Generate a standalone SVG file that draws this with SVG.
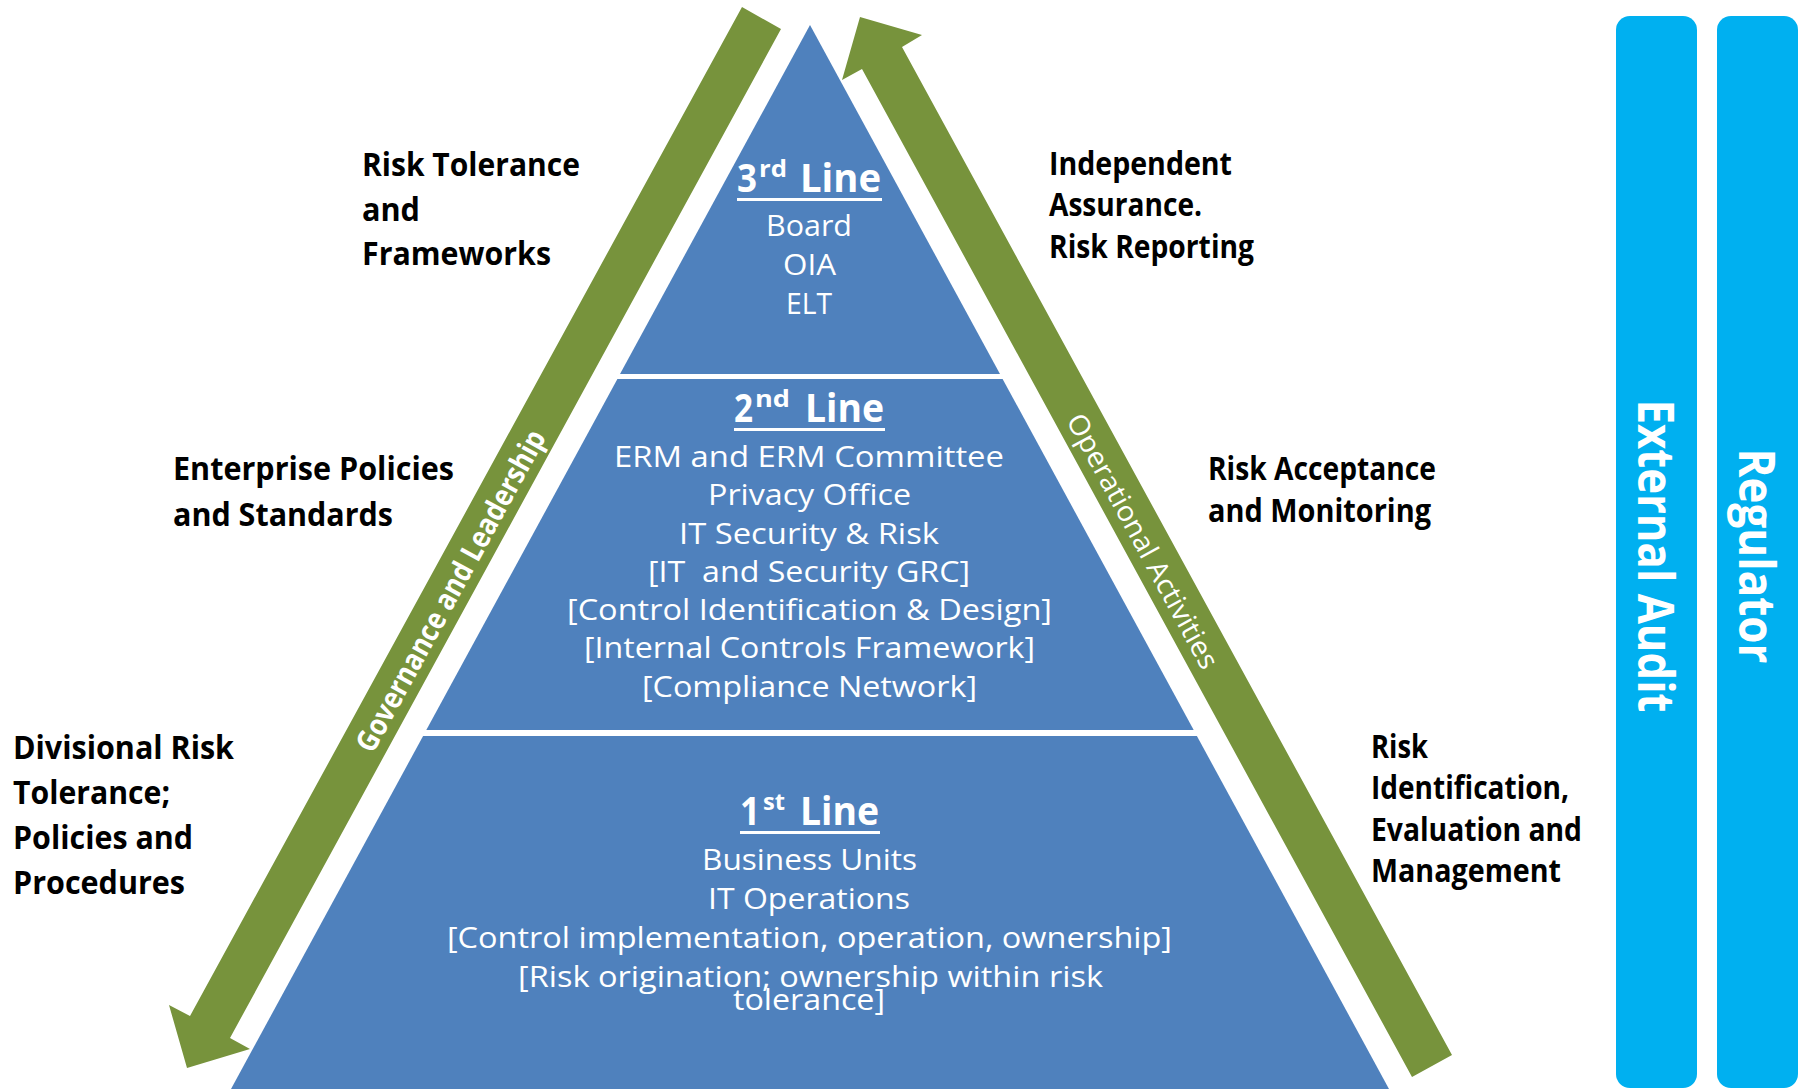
<svg xmlns="http://www.w3.org/2000/svg" width="1806" height="1089" viewBox="0 0 1806 1089">
<style>
  .tier { fill: #4F81BD; }
  .arrow { fill: #77933C; }
  .bar { fill: #00B0F0; }
  .wt { fill: #FFFFFF; font-family: "Open Sans", "Liberation Sans", sans-serif; }
  .body { font-size: 30px; text-anchor: middle; }
  .head { font-size: 40px; font-weight: bold; }
  .sup { font-size: 24px; font-weight: bold; }
  .lbl { fill: #000000; font-family: "Open Sans", "Liberation Sans", sans-serif; font-size: 32px; font-weight: bold; }
  .bartxt { fill: #FFFFFF; font-family: "Open Sans", "Liberation Sans", sans-serif; font-size: 50px; font-weight: bold; text-anchor: middle; }
  .arrtxt { fill: #FFFFFF; font-family: "Open Sans", "Liberation Sans", sans-serif; text-anchor: middle; }
</style>
<rect x="0" y="0" width="1806" height="1089" fill="#FFFFFF"/>

<g id="connectors">
  <g id="arrow-governance">
    <polygon class="arrow" points="742,7 781,29 230,1038 250,1049 187,1068 169,1005 190,1016"/>
    <text class="arrtxt" font-size="30" font-weight="bold" textLength="362" lengthAdjust="spacingAndGlyphs" transform="translate(451,591) rotate(-61.3)" dy="10">Governance and Leadership</text>
  </g>
  <g id="arrow-operational">
    <polygon class="arrow" points="860,17 922,35 902,47 1452,1055 1412,1077 862,69 842,80"/>
    <text class="arrtxt" font-size="28" textLength="286" lengthAdjust="spacingAndGlyphs" transform="translate(1143,541) rotate(61.4)" dy="10">Operational Activities</text>
  </g>
</g>

<g id="tier-3">
  <polygon class="tier" points="810,25 1000,374 620,374"/>
  <text class="wt head" x="737" y="192" textLength="20" lengthAdjust="spacingAndGlyphs">3</text>
  <text class="wt sup" x="759" y="177" textLength="28" lengthAdjust="spacingAndGlyphs">rd</text>
  <text class="wt head" x="800" y="192" textLength="81" lengthAdjust="spacingAndGlyphs">Line</text>
  <rect x="737" y="198" width="145" height="3" fill="#FFFFFF"/>
  <text class="wt body" x="809" y="236" textLength="86" lengthAdjust="spacingAndGlyphs">Board</text>
  <text class="wt body" x="809.5" y="275" textLength="53" lengthAdjust="spacingAndGlyphs">OIA</text>
  <text class="wt body" x="809" y="314" textLength="46" lengthAdjust="spacingAndGlyphs">ELT</text>
</g>

<g id="tier-2">
  <polygon class="tier" points="617.4,379 1002.6,379 1193.7,730 426.3,730"/>
  <text class="wt head" x="734" y="422" textLength="19" lengthAdjust="spacingAndGlyphs">2</text>
  <text class="wt sup" x="755" y="407" textLength="35" lengthAdjust="spacingAndGlyphs">nd</text>
  <text class="wt head" x="805" y="422" textLength="79" lengthAdjust="spacingAndGlyphs">Line</text>
  <rect x="734" y="428" width="151" height="3" fill="#FFFFFF"/>
  <text class="wt body" x="809" y="467" textLength="390" lengthAdjust="spacingAndGlyphs">ERM and ERM Committee</text>
  <text class="wt body" x="809.5" y="505" textLength="203" lengthAdjust="spacingAndGlyphs">Privacy Office</text>
  <text class="wt body" x="809" y="544" textLength="260" lengthAdjust="spacingAndGlyphs">IT Security &amp; Risk</text>
  <text class="wt body" x="809" y="582" textLength="322" lengthAdjust="spacingAndGlyphs" xml:space="preserve">[IT  and Security GRC]</text>
  <text class="wt body" x="809.5" y="620" textLength="485" lengthAdjust="spacingAndGlyphs">[Control Identification &amp; Design]</text>
  <text class="wt body" x="809.5" y="658" textLength="451" lengthAdjust="spacingAndGlyphs">[Internal Controls Framework]</text>
  <text class="wt body" x="809.5" y="697" textLength="335" lengthAdjust="spacingAndGlyphs">[Compliance Network]</text>
</g>

<g id="tier-1">
  <polygon class="tier" points="423.1,736 1196.9,736 1389,1089 231,1089"/>
  <text class="wt head" x="740" y="825" textLength="20" lengthAdjust="spacingAndGlyphs">1</text>
  <text class="wt sup" x="763" y="810" textLength="22" lengthAdjust="spacingAndGlyphs">st</text>
  <text class="wt head" x="800" y="825" textLength="79" lengthAdjust="spacingAndGlyphs">Line</text>
  <rect x="740" y="831" width="140" height="3" fill="#FFFFFF"/>
  <text class="wt body" x="809.5" y="870" textLength="215" lengthAdjust="spacingAndGlyphs">Business Units</text>
  <text class="wt body" x="809" y="909" textLength="202" lengthAdjust="spacingAndGlyphs">IT Operations</text>
  <text class="wt body" x="809.5" y="948" textLength="725" lengthAdjust="spacingAndGlyphs">[Control implementation, operation, ownership]</text>
  <text class="wt body" x="810.5" y="987" textLength="585" lengthAdjust="spacingAndGlyphs">[Risk origination; ownership within risk</text>
  <text class="wt body" x="809" y="1010" textLength="152" lengthAdjust="spacingAndGlyphs">tolerance]</text>
</g>

<g id="label-risk-tolerance">
  <text class="lbl" x="362" y="176" textLength="218" lengthAdjust="spacingAndGlyphs">Risk Tolerance</text>
  <text class="lbl" x="362" y="221" textLength="58" lengthAdjust="spacingAndGlyphs">and</text>
  <text class="lbl" x="362" y="265" textLength="189" lengthAdjust="spacingAndGlyphs">Frameworks</text>
</g>
<g id="label-enterprise-policies">
  <text class="lbl" x="173" y="480" textLength="281" lengthAdjust="spacingAndGlyphs">Enterprise Policies</text>
  <text class="lbl" x="173" y="526" textLength="220" lengthAdjust="spacingAndGlyphs">and Standards</text>
</g>
<g id="label-divisional">
  <text class="lbl" x="13" y="759" textLength="221" lengthAdjust="spacingAndGlyphs">Divisional Risk</text>
  <text class="lbl" x="13" y="804" textLength="157" lengthAdjust="spacingAndGlyphs">Tolerance;</text>
  <text class="lbl" x="13" y="849" textLength="180" lengthAdjust="spacingAndGlyphs">Policies and</text>
  <text class="lbl" x="13" y="894" textLength="172" lengthAdjust="spacingAndGlyphs">Procedures</text>
</g>
<g id="label-independent-assurance">
  <text class="lbl" x="1049" y="175" textLength="183" lengthAdjust="spacingAndGlyphs">Independent</text>
  <text class="lbl" x="1049" y="216" textLength="153" lengthAdjust="spacingAndGlyphs">Assurance.</text>
  <text class="lbl" x="1049" y="258" textLength="205" lengthAdjust="spacingAndGlyphs">Risk Reporting</text>
</g>
<g id="label-risk-acceptance">
  <text class="lbl" x="1208" y="480" textLength="228" lengthAdjust="spacingAndGlyphs">Risk Acceptance</text>
  <text class="lbl" x="1208" y="522" textLength="223" lengthAdjust="spacingAndGlyphs">and Monitoring</text>
</g>
<g id="label-risk-identification">
  <text class="lbl" x="1371" y="758" textLength="57" lengthAdjust="spacingAndGlyphs">Risk</text>
  <text class="lbl" x="1371" y="799" textLength="198" lengthAdjust="spacingAndGlyphs">Identification,</text>
  <text class="lbl" x="1371" y="841" textLength="211" lengthAdjust="spacingAndGlyphs">Evaluation and</text>
  <text class="lbl" x="1371" y="882" textLength="190" lengthAdjust="spacingAndGlyphs">Management</text>
</g>

<g id="bar-external-audit">
  <rect class="bar" x="1616" y="16" width="81" height="1072" rx="14" ry="14"/>
  <text class="bartxt" transform="translate(1638,556) rotate(90)" textLength="313" lengthAdjust="spacingAndGlyphs">External Audit</text>
</g>
<g id="bar-regulator">
  <rect class="bar" x="1717" y="16" width="81" height="1072" rx="14" ry="14"/>
  <text class="bartxt" transform="translate(1739,556) rotate(90)" textLength="215" lengthAdjust="spacingAndGlyphs">Regulator</text>
</g>
</svg>
